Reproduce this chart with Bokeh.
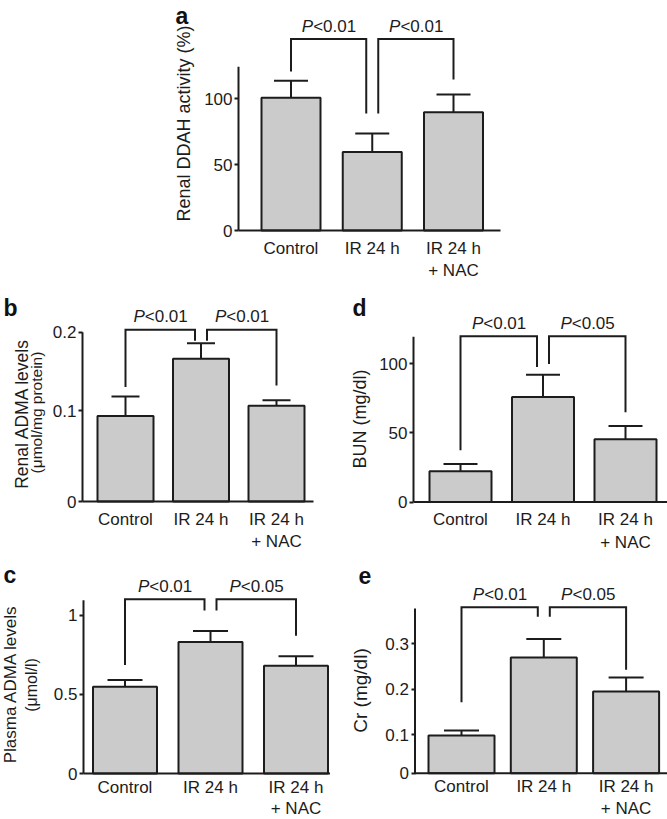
import math
from bokeh.plotting import figure
from bokeh.models import ColumnDataSource, FixedTicker, Whisker, TeeHead
from bokeh.layouts import column, row
from bokeh.core.properties import value
from bokeh.embed import file_html
from bokeh.resources import INLINE

# ---------------- data ----------------
groups = ["Control", "IR 24 h", "IR 24 h\n+ NAC"]

# a: Renal DDAH activity (%)
a_mean = [100.5, 59.5, 89.5]
a_err = [13.0, 14.0, 13.5]
a_ticks = [0, 50, 100]
a_tick_labels = ["0", "50", "100"]
a_floor = 0
a_axis_top = 124
a_bracket_top = [145, 145]
a_bracket_legs = [[120.5, 88.6], [88.6, 114.4]]
a_pvals = ["<0.01", "<0.01"]

# b: Renal ADMA levels (umol/mg protein)
b_mean = [0.093, 0.166, 0.106]
b_err = [0.025, 0.020, 0.007]
b_floor = -0.0162
b_ticks = [b_floor, 0.1, 0.2]
b_tick_labels = ["0", "0.1", "0.2"]
b_axis_top = 0.2
b_bracket_top = [0.203, 0.203]
b_bracket_legs = [[0.130, 0.189], [0.189, 0.132]]
b_pvals = ["<0.01", "<0.01"]

# c: Plasma ADMA levels (umol/l)
c_mean = [0.548, 0.83, 0.68]
c_err = [0.042, 0.07, 0.06]
c_floor = 0
c_ticks = [0, 0.5, 1]
c_tick_labels = ["0", "0.5", "1"]
c_axis_top = 1.095
c_bracket_top = [1.10, 1.10]
c_bracket_legs = [[0.685, 1.03], [1.03, 0.87]]
c_pvals = ["<0.01", "<0.05"]

# d: BUN (mg/dl)
d_mean = [22.2, 76.0, 45.4]
d_err = [5.3, 16.0, 9.6]
d_floor = 0
d_ticks = [0, 50, 100]
d_tick_labels = ["0", "50", "100"]
d_axis_top = 119.6
d_bracket_top = [120, 120]
d_bracket_legs = [[37.5, 97.6], [99.8, 65.0]]
d_pvals = ["<0.01", "<0.05"]

# e: Cr (mg/dl)
e_mean = [0.098, 0.27, 0.195]
e_err = [0.011, 0.041, 0.031]
e_floor = 0.0146
e_ticks = [e_floor, 0.1, 0.2, 0.3]
e_tick_labels = ["0", "0.1", "0.2", "0.3"]
e_axis_top = 0.378
e_bracket_top = [0.381, 0.381]
e_bracket_legs = [[0.171, 0.36], [0.36, 0.243]]
e_pvals = ["<0.01", "<0.05"]

# ---------------- style / layout ----------------
FONT = "Liberation Sans"
INK = "#1c1c1c"
FILL = "#cbcbcb"
TICK_FS = "17px"


def make_panel(g, letter, ylabels, means, errs, ticks, tick_labels, floor,
               ppu, axis_top, br_top, br_legs, pvals):
    fx0, fy0, fx1, fy1 = g["box"]
    c0, dx, ay = g["c0"], g["dx"], g["axis_y"]

    def X(px):
        return (px - c0) / dx

    def Y(py):
        return floor + (ay - py) / ppu

    p = figure(width=fx1 - fx0, height=fy1 - fy0,
               x_range=(X(fx0), X(fx1)), y_range=(Y(fy1), Y(fy0)),
               min_border=0, min_border_left=0, min_border_right=0,
               min_border_top=0, min_border_bottom=0,
               output_backend="svg", toolbar_location=None, outline_line_color=None,
               background_fill_color="white", border_fill_color="white")
    p.xgrid.visible = False
    p.ygrid.visible = False

    xpos = list(range(len(means)))
    upper = [m + e for m, e in zip(means, errs)]
    src = ColumnDataSource(dict(x=xpos, top=means, upper=upper))
    p.add_layout(Whisker(source=src, base="x", upper="upper", lower="top", dimension="height",
                         line_color=INK, line_width=2,
                         upper_head=TeeHead(size=g["cap"], line_color=INK, line_width=2),
                         lower_head=None))
    p.vbar(x="x", top="top", bottom=floor, width=g["bar_w"] / dx, source=src,
           fill_color=FILL, line_color=INK, line_width=2)

    # spines: y up to axis top, x from y axis to right end
    sx = X(g["axis_x"])
    p.segment(x0=[sx, sx], y0=[floor, floor], x1=[sx, X(g["x_end"])], y1=[axis_top, floor],
              line_color=INK, line_width=2)

    # significance brackets
    off = 6.0 / dx
    pairs = [(0, 1), (1, 2)]
    bxs, bys, mids = [], [], []
    for k, (i, j) in enumerate(pairs):
        l = i + (off if i == 1 else 0)
        r = j - (off if j == 1 else 0)
        bxs.append([l, l, r, r])
        bys.append([br_legs[k][0], br_top[k], br_top[k], br_legs[k][1]])
        mids.append((l + r) / 2)
    p.multi_line(xs=bxs, ys=bys, line_color=INK, line_width=2, line_join="miter")

    xo = -15.5
    p.text(x=mids, y=br_top, text=["P"] * len(mids), x_offset=xo, y_offset=-13,
           text_align="right", text_baseline="middle", text_font=value(FONT),
           text_font_size="17px", text_font_style="italic", text_color=INK)
    p.text(x=mids, y=br_top, text=pvals, x_offset=xo, y_offset=-13,
           text_align="left", text_baseline="middle", text_font=value(FONT),
           text_font_size="17px", text_color=INK)

    # panel letter
    lx, ly = g["letter"]
    p.text(x=[X(lx)], y=[Y(ly)], text=[letter], text_align="left", text_baseline="middle",
           text_font=value(FONT), text_font_size="23px", text_font_style="bold",
           text_color="#111111")

    # y axis titles (rotated)
    for (txt, cx, cy, fs) in ylabels:
        p.text(x=[X(cx)], y=[Y(cy)], text=[txt], angle=math.pi / 2, text_align="center",
               text_baseline="middle", text_font=value(FONT), text_font_size=fs,
               text_color=INK)

    # axes
    xa = p.xaxis[0]
    xa.fixed_location = floor
    xa.ticker = FixedTicker(ticks=xpos, minor_ticks=[])
    xa.major_label_overrides = {i: groups[i] for i in xpos}
    xa.axis_line_color = None
    xa.major_tick_line_color = None
    xa.minor_tick_line_color = None
    xa.major_tick_out = 0
    xa.major_tick_in = 0
    xa.major_label_standoff = g["xlab_standoff"]
    xa.major_label_text_font = FONT
    xa.major_label_text_font_size = TICK_FS
    xa.major_label_text_color = INK
    xa.major_label_text_line_height = g["xlab_lh"]

    ya = p.yaxis[0]
    ya.fixed_location = sx
    ya.ticker = FixedTicker(ticks=ticks, minor_ticks=[])
    ya.major_label_overrides = {t: s for t, s in zip(ticks, tick_labels)}
    ya.axis_line_color = None
    ya.major_tick_out = 4
    ya.major_tick_in = 0
    ya.major_tick_line_width = 2
    ya.major_tick_line_color = INK
    ya.minor_tick_line_color = None
    ya.major_label_standoff = 2
    ya.major_label_text_font = FONT
    ya.major_label_text_font_size = TICK_FS
    ya.major_label_text_color = INK
    return p


geo_a = dict(box=(0, 0, 667, 280), axis_x=238, x_end=500, axis_y=230, xlab_standoff=8,
             xlab_lh=1.2, c0=290.5, dx=81.25, bar_w=59, cap=34, letter=(175, 15.5))
geo_b = dict(box=(0, 280, 330, 552), axis_x=82, x_end=313, axis_y=501, xlab_standoff=8,
             xlab_lh=1.2, c0=125, dx=75.5, bar_w=56, cap=28, letter=(3, 307))
geo_d = dict(box=(330, 280, 667, 552), axis_x=413, x_end=667, axis_y=501.5, xlab_standoff=8,
             xlab_lh=1.2, c0=460, dx=82.5, bar_w=62, cap=34, letter=(352, 307.5))
geo_c = dict(box=(0, 552, 330, 819), axis_x=83, x_end=330, axis_y=773, xlab_standoff=4,
             xlab_lh=1.15, c0=124.5, dx=85.5, bar_w=64, cap=35, letter=(3, 574.5))
geo_e = dict(box=(330, 552, 667, 819), axis_x=414.5, x_end=667, axis_y=772.7, xlab_standoff=4,
             xlab_lh=1.15, c0=461, dx=82.3, bar_w=66, cap=35, letter=(358, 574.5))

pa = make_panel(geo_a, "a", [("Renal DDAH activity (%)", 183, 123, "18px")],
                a_mean, a_err, a_ticks, a_tick_labels, a_floor, 1.32, a_axis_top,
                a_bracket_top, a_bracket_legs, a_pvals)
pb = make_panel(geo_b, "b", [("Renal ADMA levels", 21.5, 413, "17.5px"),
                             ("(\u03bcmol/mg protein)", 36, 412, "15.5px")],
                b_mean, b_err, b_ticks, b_tick_labels, b_floor, 783.0, b_axis_top,
                b_bracket_top, b_bracket_legs, b_pvals)
pd_ = make_panel(geo_d, "d", [("BUN (mg/dl)", 359, 418.5, "18px")],
                 d_mean, d_err, d_ticks, d_tick_labels, d_floor, 1.382, d_axis_top,
                 d_bracket_top, d_bracket_legs, d_pvals)
pc = make_panel(geo_c, "c", [("Plasma ADMA levels", 10, 683.5, "17px"),
                             ("(\u03bcmol/l)", 31, 684.5, "16px")],
                c_mean, c_err, c_ticks, c_tick_labels, c_floor, 158.3, c_axis_top,
                c_bracket_top, c_bracket_legs, c_pvals)
pe = make_panel(geo_e, "e", [("Cr (mg/dl)", 360, 690, "19px")],
                e_mean, e_err, e_ticks, e_tick_labels, e_floor, 453.0, e_axis_top,
                e_bracket_top, e_bracket_legs, e_pvals)

layout = column(pa, row(pb, pd_), row(pc, pe))

open("out.html", "w").write(file_html(layout, INLINE))
